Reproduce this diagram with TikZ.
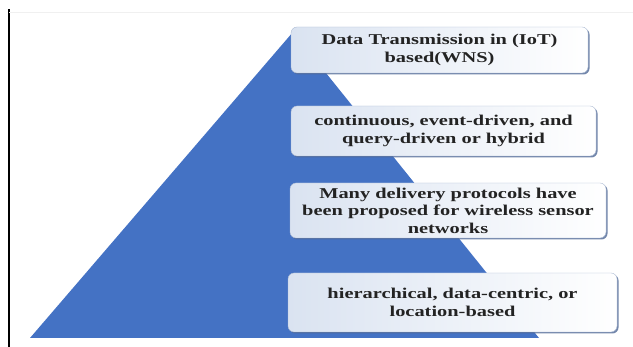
\documentclass[tikz,border=0pt]{standalone}
\usepackage{fontspec}
\usetikzlibrary{shadows}
\newfontfamily\boxfont[FakeStretch=1.36]{Liberation Serif}
\definecolor{pyrblue}{RGB}{68,114,196}
\definecolor{boxtint}{RGB}{218,227,241}
\definecolor{boxedge}{RGB}{170,185,210}
\definecolor{boxshade}{RGB}{80,105,150}
\definecolor{boxtext}{RGB}{35,35,35}

\begin{document}
\begin{tikzpicture}[
	x=1pt, y=1pt
]
\tikzset{
    levelbox/.style = {rectangle, rounded corners=6pt, draw=boxedge, thin,
        left color=boxtint, right color=white, align=center,
        font=\boxfont\fontsize{15}{17.5}\selectfont\bfseries, text=boxtext,
        inner sep=0pt,
        drop shadow={shadow xshift=1.5pt, shadow yshift=-1.5pt, fill=boxshade, opacity=0.8}},
}
\useasboundingbox (0,0) rectangle (633,347);
\draw[black, line width=1.3pt] (9,0) -- (9,338);
\draw[black!6, thin] (9,335) -- (633,335);

\coordinate (apex) at (293,315);
\coordinate (bl) at (30,9);
\coordinate (br) at (539,9);
\fill[pyrblue] (bl) -- (apex) -- (br) -- cycle;

\node (L1) [levelbox, minimum width=297pt, minimum height=46pt] at (439.5,297)
	{Data Transmission in (IoT)\\ based(WNS)};
\node (L2) [levelbox, minimum width=305pt, minimum height=50pt] at (443.5,216)
	{continuous, event-driven, and\\ query-driven or hybrid};
\node (L3) [levelbox, minimum width=316pt, minimum height=55pt] at (448,136.5)
	{Many delivery protocols have\\ been proposed for wireless sensor\\ networks};
\node (L4) [levelbox, minimum width=329pt, minimum height=59pt] at (452.5,44.5)
	{hierarchical, data-centric, or\\ location-based};
\end{tikzpicture}
\end{document}
